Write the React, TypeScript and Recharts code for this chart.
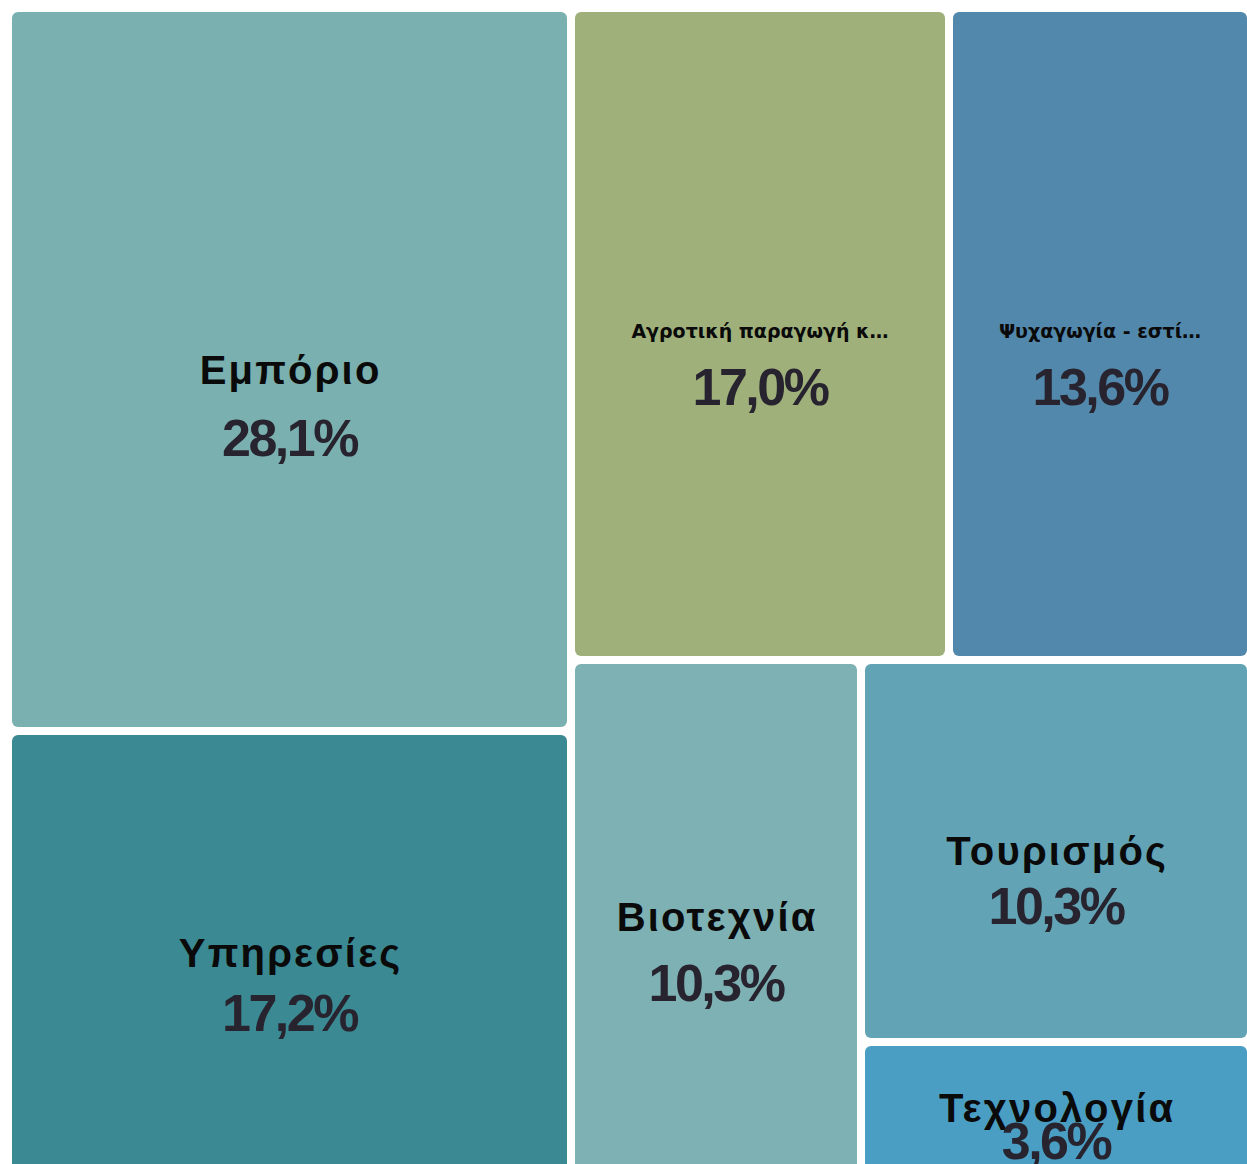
import { Treemap } from 'recharts';

const names = [
  'Εμπόριο',
  'Υπηρεσίες',
  'Αγροτική παραγωγή και κτηνοτροφία',
  'Ψυχαγωγία - εστίαση',
  'Βιοτεχνία',
  'Τουρισμός',
  'Τεχνολογία',
];
const shares = [28.1, 17.2, 17.0, 13.6, 10.3, 10.3, 3.6];
const colors = ['#7ab0af', '#3b8992', '#9fb07a', '#5288ab', '#7db1b3', '#62a4b5', '#4b9ec3'];

const data = names.map((name, i) => ({ name, size: shares[i], color: colors[i] }));

const BIG_FONT = "'Liberation Sans', Arial, sans-serif";
const SMALL_FONT = "'DejaVu Sans', Verdana, sans-serif";
const PCT_FONT = "'Liberation Sans', Arial, sans-serif";
const BIG = 40;
const BIG_SPACING = 2.2;
const SMALL = 19;

let ctx: CanvasRenderingContext2D | null = null;
function measure(text: string, size: number, font: string) {
  if (!ctx) ctx = document.createElement('canvas').getContext('2d');
  if (!ctx) return text.length * size * 0.6;
  ctx.font = `bold ${size}px ${font}`;
  return ctx.measureText(text).width;
}

function truncate(text: string, size: number, max: number) {
  if (measure(text, size, SMALL_FONT) <= max) return text;
  let s = text;
  while (s.length > 1 && measure(s + '…', size, SMALL_FONT) > max) s = s.slice(0, -1);
  return s.trimEnd() + '…';
}

// Custom cell with gap and rounded corners
const Cell = (props: any) => {
  const { x, y, width, height, depth, name, color, size } = props;
  if (depth !== 1) return <g />;
  const w = width - 8;
  const h = height - 8;
  const cx = x + width / 2;
  const bigWidth = measure(name, BIG, BIG_FONT) + BIG_SPACING * name.length;
  const small = bigWidth > w * 0.8;
  const cy = y + height / 2 - (small ? 3 : 0);

  const label = small ? truncate(name, SMALL, w * 0.7) : name;
  const nameSize = small ? SMALL : BIG;
  const offset = small ? 56 : Math.max(30, Math.min(68, 33 + (h - 128) * 0.088));
  const pct = `${Number(size).toFixed(1).replace('.', ',')}%`;

  return (
    <g>
      <rect x={x + 4} y={y + 4} width={w} height={h} rx={6} ry={6} fill={color} stroke="none" />
      <text
        x={cx + (small ? 0 : BIG_SPACING / 2)}
        y={cy + nameSize * 0.36}
        textAnchor="middle"
        fill="#0a0a0a"
        stroke="none"
        fontFamily={small ? SMALL_FONT : BIG_FONT}
        fontWeight="bold"
        fontSize={nameSize}
        letterSpacing={small ? 0 : BIG_SPACING}
      >
        {label}
      </text>
      <text
        x={cx}
        y={cy + offset + 18}
        textAnchor="middle"
        fill="#28242f"
        stroke="none"
        fontFamily={PCT_FONT}
        fontWeight="bold"
        fontSize={52}
        letterSpacing={-2.5}
      >
        {pct}
      </text>
    </g>
  );
};

export default function App() {
  return (
    <div style={{ position: 'fixed', left: 8, top: 8, width: 1239, height: 1156, overflow: 'hidden', background: '#fff' }}>
      <Treemap
        width={1243}
        height={1166}
        data={data}
        dataKey="size"
        nameKey="name"
        aspectRatio={1.1}
        stroke="#fff"
        content={<Cell />}
        isAnimationActive={false}
      />
    </div>
  );
}
